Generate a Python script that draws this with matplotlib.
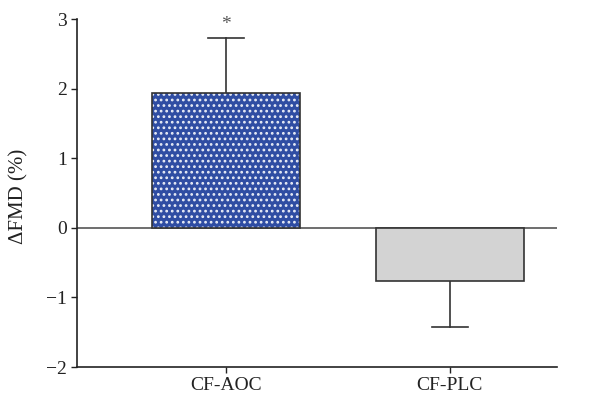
import numpy as np
import matplotlib.pyplot as plt

groups = ['CF-AOC', 'CF-PLC']
means = [1.93, -0.76]
errors = [0.80, 0.66]
colors = ['#2f4da3', '#d3d3d3']
hatches = ['...', '']

plt.rcParams['font.family'] = ['Liberation Serif', 'DejaVu Serif']
plt.rcParams['hatch.linewidth'] = 1.2

fig = plt.figure(figsize=(5.98, 3.98), dpi=100)
ax = fig.add_axes([77 / 598, 31 / 398, 480 / 598, 348 / 398])

x = np.arange(len(groups))
width = 0.66
# fill with hatch first, then outline on top
ax.bar(x, means, width, color=colors, hatch=hatches, edgecolor='#e8ecf6', linewidth=0, zorder=2)
ax.bar(x, means, width, fill=False, edgecolor='#333333', linewidth=1.2, zorder=3)

# one-sided error bars, away from zero
for xi, m, e in zip(x, means, errors):
    end = m + e if m > 0 else m - e
    ax.plot([xi, xi], [m, end], color='#333333', lw=1.2, zorder=1)
    ax.plot([xi - 0.082, xi + 0.082], [end, end], color='#333333', lw=1.2, zorder=1)

ax.text(x[0], means[0] + errors[0] + 0.07, '*', ha='center', va='bottom', fontsize=14, color='#555555')

ax.axhline(0, color='#555555', lw=1.2, zorder=1)

ax.set_xlim(-0.665, 1.478)
ax.set_ylim(-2, 3)
ax.set_yticks([-2, -1, 0, 1, 2, 3])
ax.set_yticklabels(['\u22122', '\u22121', '0', '1', '2', '3'])
ax.set_xticks(x)
ax.set_xticklabels(groups)
ax.tick_params(labelsize=14, length=4, width=1, colors='#222222', pad=3)
ax.set_ylabel('\u0394FMD (%)', fontsize=15, color='#222222')
ax.yaxis.set_label_coords(-0.102, 0.49)

for s in ['top', 'right']:
    ax.spines[s].set_visible(False)
for s in ['left', 'bottom']:
    ax.spines[s].set_linewidth(1.2)
    ax.spines[s].set_color('#222222')

fig.savefig('out.png', dpi=100)
